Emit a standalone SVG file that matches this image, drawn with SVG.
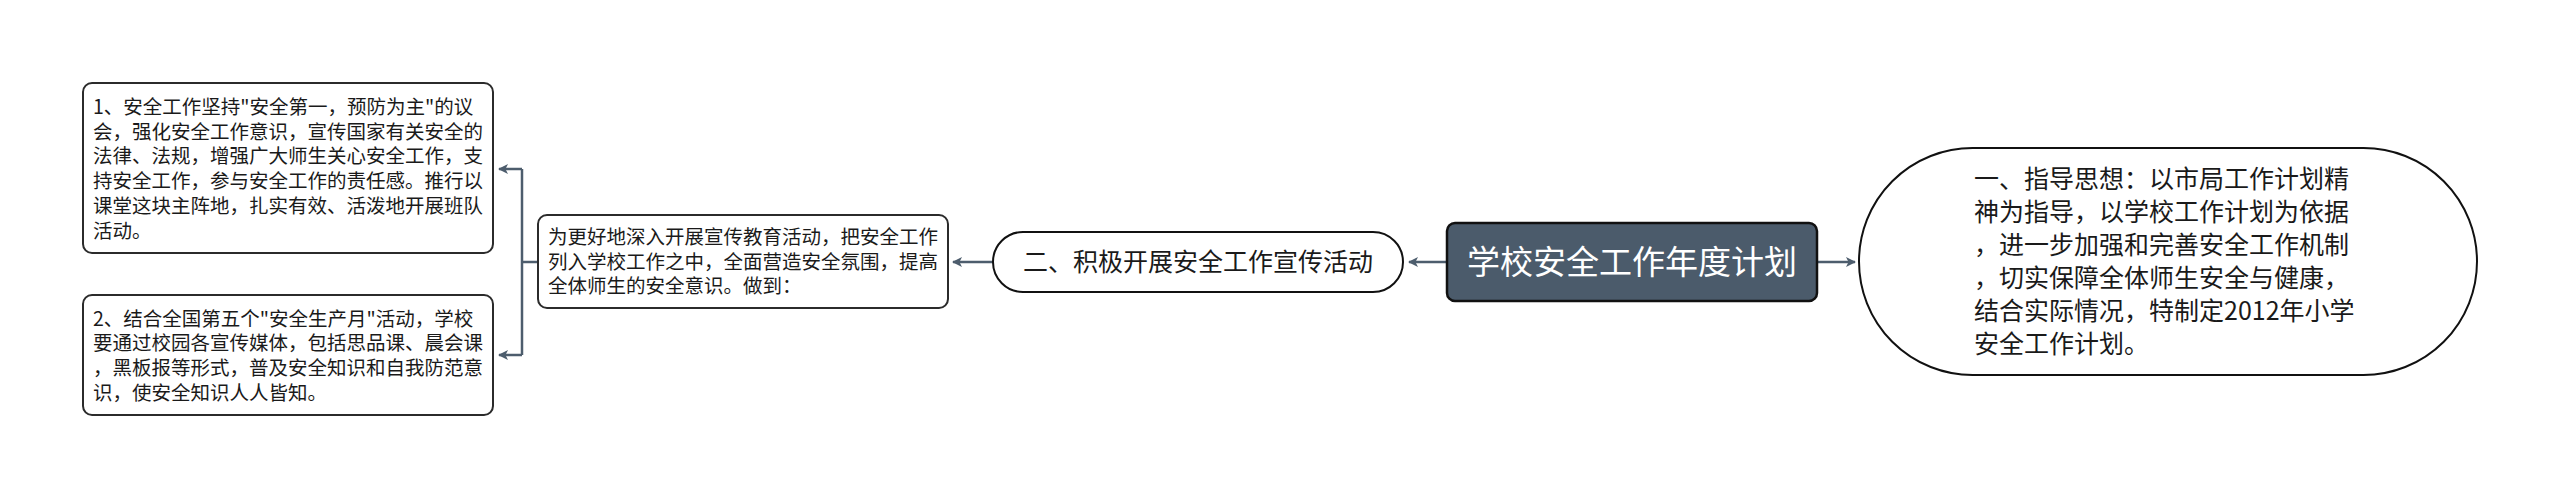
<svg xmlns="http://www.w3.org/2000/svg" width="2560" height="499" viewBox="0 0 2560 499">
<style>
.box{fill:#ffffff;stroke:#2b2b2b;stroke-width:2}
.t{font-family:"Noto Sans CJK SC","Noto Sans",sans-serif;fill:#1a1a1a}
.s{font-size:19.5px}
.m{font-size:25px}
.conn{fill:none;stroke:#4d5d6d;stroke-width:2.5}
</style>
<defs>
<marker id="arr" viewBox="0 0 10 10" refX="9" refY="5" markerWidth="10" markerHeight="10" markerUnits="userSpaceOnUse" orient="auto">
<path d="M0,0 L10,5 L0,10 L2.5,5 Z" fill="#4d5d6d"/>
</marker>
</defs>
<rect width="2560" height="499" fill="#ffffff"/>
<g id="connectors">
<path class="conn" d="M1447,262 L1409,262" marker-end="url(#arr)"/>
<path class="conn" d="M1817,262 L1855,262" marker-end="url(#arr)"/>
<path class="conn" d="M993,262 L953,262" marker-end="url(#arr)"/>
<path class="conn" d="M538,262 L522,262"/>
<path class="conn" d="M522,169 L522,355"/>
<path class="conn" d="M522,169 L499,169" marker-end="url(#arr)"/>
<path class="conn" d="M522,355 L499,355" marker-end="url(#arr)"/>
</g>
<g id="root">
<rect x="1447" y="223" width="370" height="78" rx="8" fill="#4b5b6b" stroke="#111111" stroke-width="2.5"/>
<text class="t" x="1632" y="274" font-size="33" fill="#ffffff" style="fill:#ffffff" text-anchor="middle">学校安全工作年度计划</text>
</g>
<g id="guide">
<rect class="box" x="1859" y="148" width="618" height="227" rx="113.5" stroke-width="2.5" style="stroke:#111111"/>
<text class="t m" x="1974" y="188">一、指导思想：以市局工作计划精</text>
<text class="t m" x="1974" y="221">神为指导，以学校工作计划为依据</text>
<text class="t m" x="1974" y="254">，进一步加强和完善安全工作机制</text>
<text class="t m" x="1974" y="287">，切实保障全体师生安全与健康，</text>
<text class="t m" x="1974" y="320">结合实际情况，特制定2012年小学</text>
<text class="t m" x="1974" y="353">安全工作计划。</text>
</g>
<g id="promo">
<rect class="box" x="993" y="232" width="410" height="60" rx="30" stroke-width="2.5" style="stroke:#111111"/>
<text class="t m" x="1198" y="271" text-anchor="middle">二、积极开展安全工作宣传活动</text>
</g>
<g id="promo-intro">
<rect class="box" x="538" y="215" width="410" height="93" rx="9"/>
<text class="t s" x="548" y="244">为更好地深入开展宣传教育活动，把安全工作</text>
<text class="t s" x="548" y="268.7">列入学校工作之中，全面营造安全氛围，提高</text>
<text class="t s" x="548" y="293.4">全体师生的安全意识。做到：</text>
</g>
<g id="item1">
<rect class="box" x="83" y="83" width="410" height="170" rx="9"/>
<text class="t s" x="93" y="114">1、安全工作坚持"安全第一，预防为主"的议</text>
<text class="t s" x="93" y="138.7">会，强化安全工作意识，宣传国家有关安全的</text>
<text class="t s" x="93" y="163.4">法律、法规，增强广大师生关心安全工作，支</text>
<text class="t s" x="93" y="188.1">持安全工作，参与安全工作的责任感。推行以</text>
<text class="t s" x="93" y="212.8">课堂这块主阵地，扎实有效、活泼地开展班队</text>
<text class="t s" x="93" y="237.5">活动。</text>
</g>
<g id="item2">
<rect class="box" x="83" y="295" width="410" height="120" rx="9"/>
<text class="t s" x="93" y="325.5">2、结合全国第五个"安全生产月"活动，学校</text>
<text class="t s" x="93" y="350.2">要通过校园各宣传媒体，包括思品课、晨会课</text>
<text class="t s" x="93" y="374.9">，黑板报等形式，普及安全知识和自我防范意</text>
<text class="t s" x="93" y="399.6">识，使安全知识人人皆知。</text>
</g>
</svg>
